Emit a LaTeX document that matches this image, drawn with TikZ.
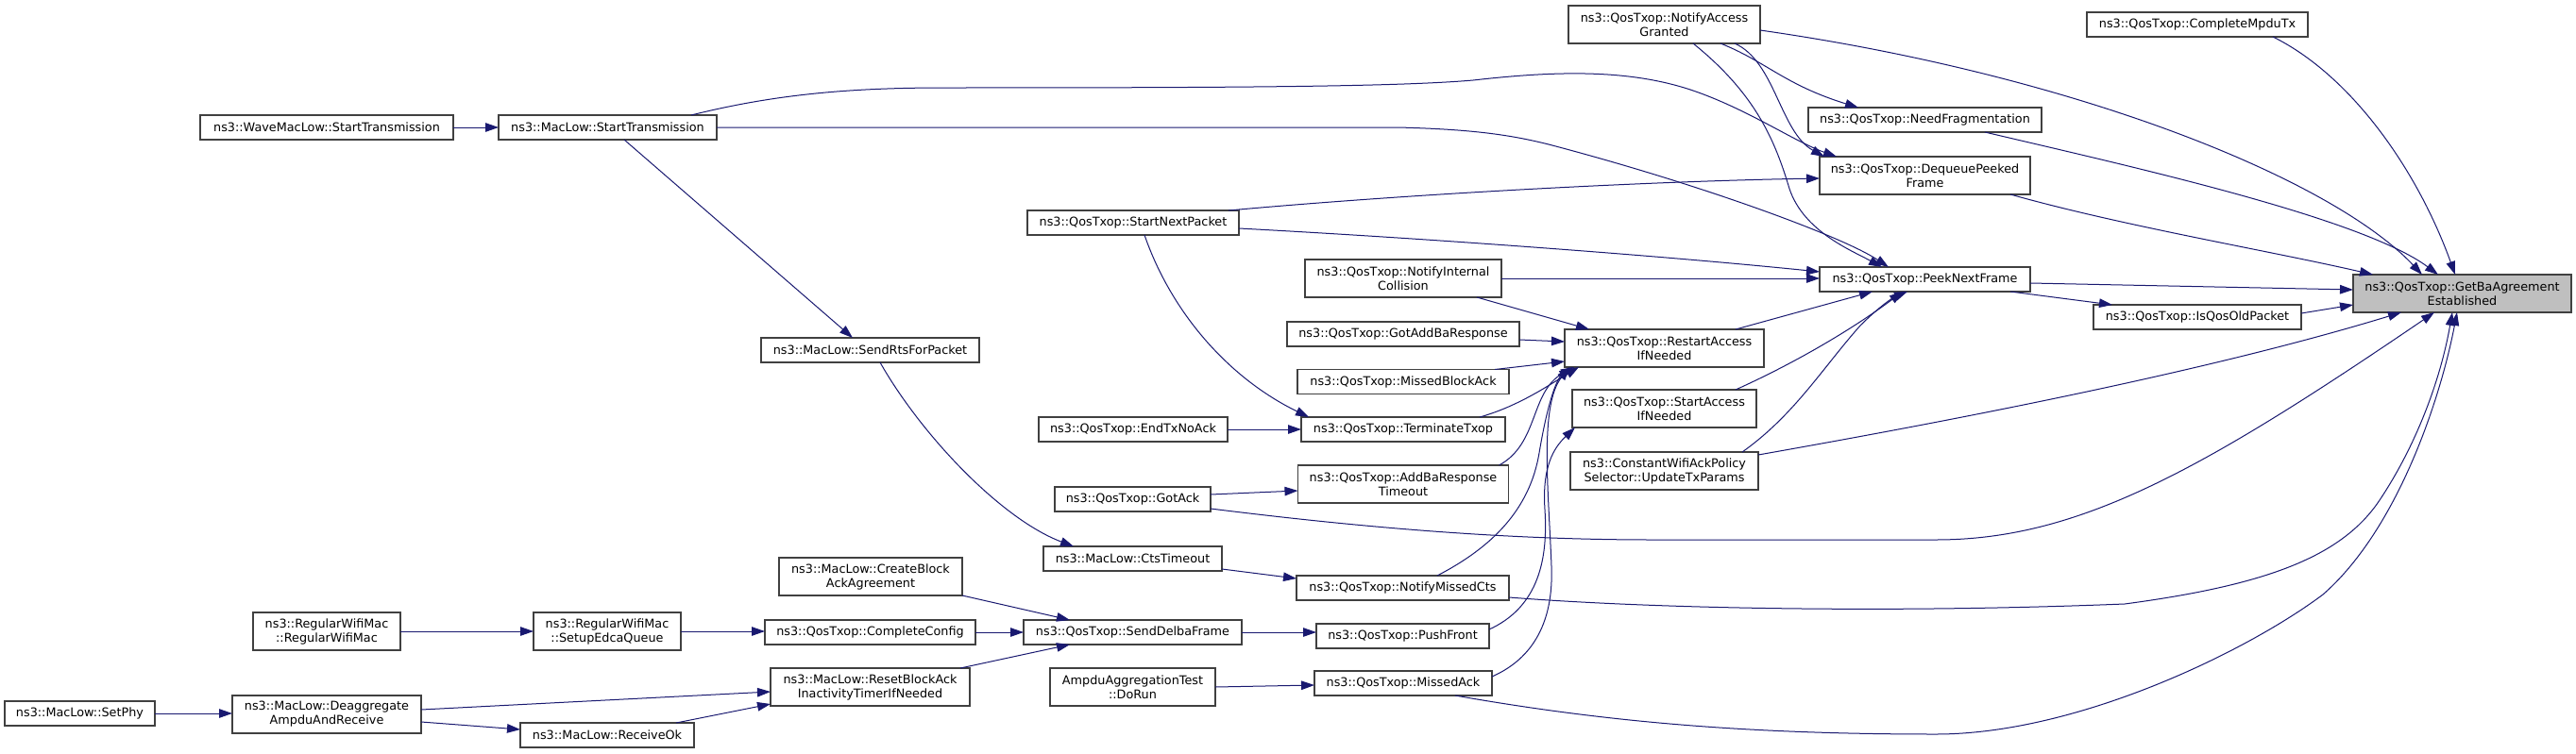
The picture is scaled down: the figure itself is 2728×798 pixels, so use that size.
\documentclass[tikz,border=0pt]{standalone}
\usepackage{fontspec}
\setmainfont{DejaVu Sans}
\usetikzlibrary{arrows.meta,calc}
\definecolor{edgec}{HTML}{191970}
\definecolor{rootfill}{HTML}{BFBFBF}
\newcommand\mybox[7][white]{\node[box,fill=#1,minimum width=#5pt,minimum height=#6pt] (#2) at (#3,#4) {#7};}
\tikzset{
  box/.style={draw=black!75, line width=1.2pt, inner sep=0pt, outer sep=0pt, align=center,
    font=\fontsize{12.8}{15}\selectfont, text=black},
  edge/.style={draw=edgec, line width=1pt, -{Triangle[length=14pt,width=9.5pt]}},
}
\begin{document}
\begin{tikzpicture}[x=1pt,y=-1pt]
\useasboundingbox[fill=white] (0,0) rectangle (2728,798);
% nodes
\mybox{wave}{346}{135}{268}{26}{ns3::WaveMacLow::StartTransmission}
\mybox{mstart}{643.5}{135}{231}{26}{ns3::MacLow::StartTransmission}
\mybox{nag}{1762.5}{26}{203}{40}{ns3::QosTxop::NotifyAccess\\Granted}
\mybox{cmt}{2327}{26}{234}{26}{ns3::QosTxop::CompleteMpduTx}
\mybox{nf}{2038.5}{127}{247}{26}{ns3::QosTxop::NeedFragmentation}
\mybox{dpf}{2038.5}{186}{223}{40}{ns3::QosTxop::DequeuePeeked\\Frame}
\mybox{pnf}{2038.5}{296}{223}{26}{ns3::QosTxop::PeekNextFrame}
\mybox[rootfill]{gba}{2607.5}{311}{231}{40}{ns3::QosTxop::GetBaAgreement\\Established}
\mybox{iqo}{2327}{336}{220}{26}{ns3::QosTxop::IsQosOldPacket}
\mybox{snp}{1200}{236}{224}{26}{ns3::QosTxop::StartNextPacket}
\mybox{nic}{1486}{295}{208}{40}{ns3::QosTxop::NotifyInternal\\Collision}
\mybox{gabr}{1486}{354}{246}{26}{ns3::QosTxop::GotAddBaResponse}
\mybox{mba}{1486}{404.5}{224}{26}{ns3::QosTxop::MissedBlockAck}
\mybox{rai}{1762.5}{369}{211}{40}{ns3::QosTxop::RestartAccess\\IfNeeded}
\mybox{sai}{1762.5}{433}{195}{40}{ns3::QosTxop::StartAccess\\IfNeeded}
\mybox{cwa}{1762.5}{499}{199}{40}{ns3::ConstantWifiAckPolicy\\Selector::UpdateTxParams}
\mybox{etna}{1200}{455}{200}{26}{ns3::QosTxop::EndTxNoAck}
\mybox{tt}{1486}{455}{216}{26}{ns3::QosTxop::TerminateTxop}
\mybox{abrt}{1486}{513}{223}{40}{ns3::QosTxop::AddBaResponse\\Timeout}
\mybox{gack}{1199.5}{529}{165}{26}{ns3::QosTxop::GotAck}
\mybox{srfp}{921.5}{371}{231}{26}{ns3::MacLow::SendRtsForPacket}
\mybox{ctst}{1199.5}{592}{189}{26}{ns3::MacLow::CtsTimeout}
\mybox{nmc}{1485.5}{623}{225}{26}{ns3::QosTxop::NotifyMissedCts}
\mybox{sdf}{1199.5}{670}{231}{26}{ns3::QosTxop::SendDelbaFrame}
\mybox{pf}{1485.5}{674}{183}{26}{ns3::QosTxop::PushFront}
\mybox{adr}{1199.5}{728}{175}{40}{AmpduAggregationTest\\::DoRun}
\mybox{mack}{1486}{724}{188}{26}{ns3::QosTxop::MissedAck}
\mybox{cbaa}{922}{611}{194}{40}{ns3::MacLow::CreateBlock\\AckAgreement}
\mybox{cc}{921.5}{670}{223}{26}{ns3::QosTxop::CompleteConfig}
\mybox{rbat}{921.5}{728}{211}{40}{ns3::MacLow::ResetBlockAck\\InactivityTimerIfNeeded}
\mybox{rwm}{346}{669}{156}{40}{ns3::RegularWifiMac\\::RegularWifiMac}
\mybox{sedq}{643}{669}{156}{40}{ns3::RegularWifiMac\\::SetupEdcaQueue}
\mybox{setphy}{84.5}{756}{159}{26}{ns3::MacLow::SetPhy}
\mybox{deag}{346}{757}{200}{40}{ns3::MacLow::Deaggregate\\AmpduAndReceive}
\mybox{rok}{643}{779}{184}{26}{ns3::MacLow::ReceiveOk}
% edges
\draw[edge] (wave.east) -- (mstart.west);
\draw[edge] ($(mstart.south west)+(133,0)$) -- ($(srfp.north west)+(97,0)$);
\draw[edge] ($(srfp.south west)+(126,0)$) .. controls (975,460) and (1060,550) .. ($(ctst.north west)+(32,0)$);
\draw[edge] ($(mstart.north west)+(204,0)$) .. controls (820,100) and (900,93) .. (1000,93) .. controls (1300,93) and (1480,92) .. (1560,85) .. controls (1640,76) and (1720,72) .. (1790,95) .. controls (1850,115) and (1900,150) .. ($(dpf.north west)+(18,0)$);
\draw[edge] (mstart.east) -- (1480,135) .. controls (1560,137) and (1600,143) .. (1640,153) .. controls (1800,195) and (1950,250) .. ($(pnf.north west)+(73,0)$);
\draw[edge] ($(nag.north east)+(0,26)$) .. controls (2200,80) and (2470,190) .. ($(gba.north west)+(73,0)$);
\draw[edge] ($(cmt.south west)+(197,0)$) .. controls (2490,80) and (2560,180) .. ($(gba.north west)+(108,0)$);
\draw[edge] ($(nf.south west)+(187,0)$) .. controls (2250,175) and (2500,230) .. ($(gba.north west)+(90,0)$);
\draw[edge] ($(dpf.south west)+(202,0)$) .. controls (2250,240) and (2400,265) .. ($(gba.north west)+(21,0)$);
\draw[edge] ($(pnf.east)+(0,4)$) -- ($(gba.west)+(0,-4)$);
\draw[edge] ($(pnf.south west)+(202,0)$) -- ($(iqo.north west)+(20,0)$);
\draw[edge] ($(iqo.east)+(0,-4)$) -- ($(gba.west)+(0,12)$);
\draw[edge] ($(nag.south west)+(161,0)$) .. controls (1870,65) and (1890,90) .. ($(nf.north west)+(53,0)$);
\draw[edge] ($(nag.south west)+(176,0)$) .. controls (1880,65) and (1885,140) .. ($(dpf.north west)+(5,0)$);
\draw[edge] ($(nag.south west)+(132,0)$) .. controls (1860,100) and (1880,150) .. (1895,200) .. controls (1910,245) and (1960,265) .. ($(pnf.north west)+(66,0)$);
\draw[edge] ($(snp.north east)+(-11,0)$) .. controls (1500,205) and (1750,192) .. ($(dpf.west)+(0,3)$);
\draw[edge] ($(snp.east)+(0,6)$) .. controls (1500,252) and (1750,270) .. ($(pnf.west)+(0,-8)$);
\draw[edge] (nic.east) -- (nic.east -| pnf.west);
\draw[edge] ($(nic.south west)+(182,0)$) -- ($(rai.north west)+(26,0)$);
\draw[edge] ($(gabr.east)+(0,6)$) -- ($(rai.west)+(0,-7)$);
\draw[edge] ($(mba.north east)+(-15,0)$) -- ($(rai.west)+(0,14)$);
\draw[edge] ($(tt.north east)+(-27,0)$) .. controls (1610,430) and (1645,405) .. ($(rai.south west)+(15,0)$);
\draw[edge] ($(abrt.north east)+(-10,0)$) .. controls (1630,470) and (1620,415) .. ($(rai.south west)+(10,0)$);
\draw[edge] ($(nmc.north west)+(149,0)$) .. controls (1580,580) and (1620,540) .. (1630,480) .. controls (1640,420) and (1650,400) .. ($(rai.south west)+(8,0)$);
\draw[edge] ($(mack.east)+(0,-7)$) .. controls (1630,695) and (1645,650) .. (1643,600) .. controls (1640,520) and (1630,430) .. ($(rai.south west)+(5,0)$);
\draw[edge] ($(pf.east)+(0,-7)$) .. controls (1625,645) and (1640,600) .. (1636,540) .. controls (1633,495) and (1645,475) .. ($(sai.south west)+(3,0)$);
\draw[edge] ($(cwa.north east)+(-17,0)$) .. controls (1900,440) and (1930,390) .. (1970,345) .. controls (1990,325) and (2005,315) .. ($(pnf.south west)+(93,0)$);
\draw[edge] ($(sai.north east)+(-22,0)$) .. controls (1900,385) and (1960,350) .. ($(pnf.south west)+(88,0)$);
\draw[edge] ($(rai.north east)+(-30,0)$) -- ($(pnf.south west)+(56,0)$);
\draw[edge] ($(cwa.east)+(0,-17)$) .. controls (2100,440) and (2350,390) .. ($(gba.south west)+(51,0)$);
\draw[edge] (etna.east) -- (tt.west);
\draw[edge] ($(snp.south west)+(124,0)$) .. controls (1240,330) and (1300,400) .. ($(tt.north west)+(8,0)$);
\draw[edge] ($(gack.east)+(0,-5)$) -- ($(abrt.west)+(0,7)$);
\draw[edge] ($(gack.south east)+(0,-3)$) .. controls (1450,560) and (1600,572) .. (1750,572) -- (2050,572) .. controls (2200,572) and (2330,500) .. ($(gba.south west)+(86,0)$);
\draw[edge] ($(ctst.east)+(0,11)$) -- ($(nmc.west)+(0,-10)$);
\draw[edge] ($(nmc.east)+(0,10)$) .. controls (1750,645) and (2000,650) .. (2250,640) .. controls (2400,620) and (2480,590) .. (2520,530) .. controls (2560,470) and (2585,400) .. ($(gba.south west)+(105,0)$);
\draw[edge] (sdf.east) -- (sdf.east -| pf.west);
\draw[edge] (adr.east) -- ($(mack.west)+(0,2)$);
\draw[edge] ($(mack.south west)+(149,0)$) .. controls (1700,765) and (1850,778) .. (2050,778) .. controls (2200,778) and (2380,690) .. (2460,630) .. controls (2540,560) and (2585,420) .. ($(gba.south west)+(110,0)$);
\draw[edge] (cbaa.south east) -- ($(sdf.north west)+(49,0)$);
\draw[edge] (cc.east) -- (sdf.west);
\draw[edge] ($(rbat.north east)+(-10,0)$) -- ($(sdf.south west)+(49,0)$);
\draw[edge] (sedq.east) -- (sedq.east -| cc.west);
\draw[edge] (rwm.east) -- (sedq.west);
\draw[edge] (setphy.east) -- (setphy.east -| deag.west);
\draw[edge] ($(deag.east)+(0,-5)$) -- ($(rbat.west)+(0,5)$);
\draw[edge] ($(deag.east)+(0,8)$) -- ($(rok.west)+(0,-6)$);
\draw[edge] ($(rok.north east)+(-19,0)$) -- ($(rbat.south west)+(0,-2)$);
\end{tikzpicture}
\end{document}
